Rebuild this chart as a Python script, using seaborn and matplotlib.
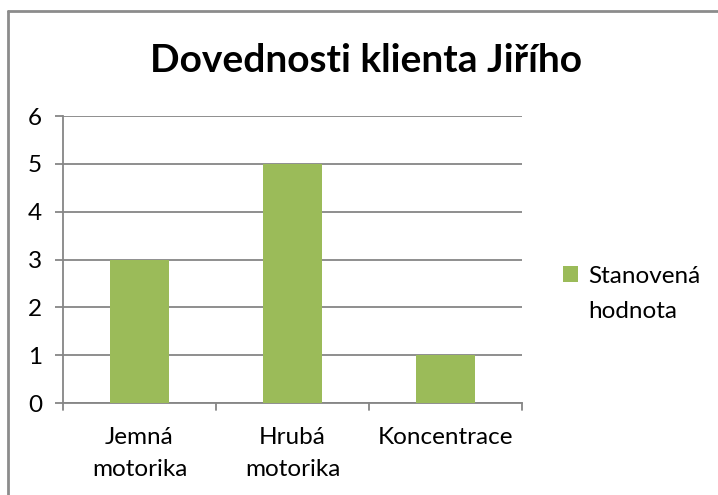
import matplotlib
matplotlib.use("Agg")
import matplotlib.pyplot as plt
import seaborn as sns
import pandas as pd
from matplotlib.lines import Line2D
from matplotlib.patches import Rectangle
from matplotlib.legend_handler import HandlerPatch

categories = ["Jemná\nmotorika", "Hrubá\nmotorika", "Koncentrace"]
values = [3, 5, 1]
series_name = "Stanovená\nhodnota"
title = "Dovednosti klienta Jiřího"
yticks = [0, 1, 2, 3, 4, 5, 6]

sns.set_theme(style="white")
plt.rcParams['font.family'] = ['Lato', 'DejaVu Sans']
plt.rcParams['text.color'] = 'black'

df = pd.DataFrame({"kategorie": categories, "hodnota": values, "serie": [series_name] * len(values)})

fig = plt.figure(figsize=(7.18, 4.95), dpi=100)
ax = fig.add_axes([63/718, 92/495, (522-63)/718, (403-116)/495])

grid_c = "#868686"
sns.barplot(data=df, x="kategorie", y="hodnota", hue="serie", palette=["#9BBB59"],
            width=0.39, ax=ax, saturation=1, legend=True, zorder=3, linewidth=0)

ax.set_ylim(0, 6)
ax.set_xlim(-0.5, 2.5)
ax.set_yticks(yticks)
ax.set_yticklabels([str(v) for v in yticks])
ax.yaxis.grid(True, color=grid_c, linewidth=1.3, zorder=0)
ax.set_axisbelow(True)
ax.set_xlabel("")
ax.set_ylabel("")
for s in ["top", "right"]:
    ax.spines[s].set_visible(False)
for s in ["left", "bottom"]:
    ax.spines[s].set_color(grid_c)
    ax.spines[s].set_linewidth(1.3)

fs = 17.5
ax.set_xticks([0, 1, 2])
ax.tick_params(axis="x", length=0, pad=17, labelsize=fs, colors="black")
ax.tick_params(axis="y", length=6, width=1.3, color=grid_c, pad=9, labelsize=fs, left=True, labelcolor="black")
for xb in [-0.5, 0.5, 1.5, 2.5]:
    ax.plot([xb, xb], [0, -0.15], color=grid_c, linewidth=1.3, clip_on=False, zorder=4)
for lbl in ax.get_xticklabels():
    lbl.set_linespacing(1.68)


def square_top(legend, orig_handle, xdescent, ydescent, width, height, fontsize):
    return Rectangle((-xdescent, -ydescent + 0.8 * fontsize), width, height)


handles, labels = ax.get_legend_handles_labels()
leg = ax.legend(handles, labels, loc="upper left", bbox_to_anchor=(563/718, 1 - 266/495),
                bbox_transform=fig.transFigure,
                frameon=False, fontsize=fs, handlelength=0.62, handleheight=0.62,
                handletextpad=0.4, borderpad=0, borderaxespad=0,
                handler_map={Rectangle: HandlerPatch(patch_func=square_top)})
for t in leg.get_texts():
    t.set_linespacing(1.8)

fig.text(366/718, 1 - 72/495, title, ha="center", va="baseline", fontsize=28, fontweight="bold")

# chart border (left and top)
fig.add_artist(Line2D([8/718, 8/718], [0, 1 - 10.5/495], color="#8c8c8c", linewidth=2, transform=fig.transFigure))
fig.add_artist(Line2D([8/718, 1], [1 - 10.5/495, 1 - 10.5/495], color="#8c8c8c", linewidth=2, transform=fig.transFigure))

fig.savefig("out.png", dpi=100)
